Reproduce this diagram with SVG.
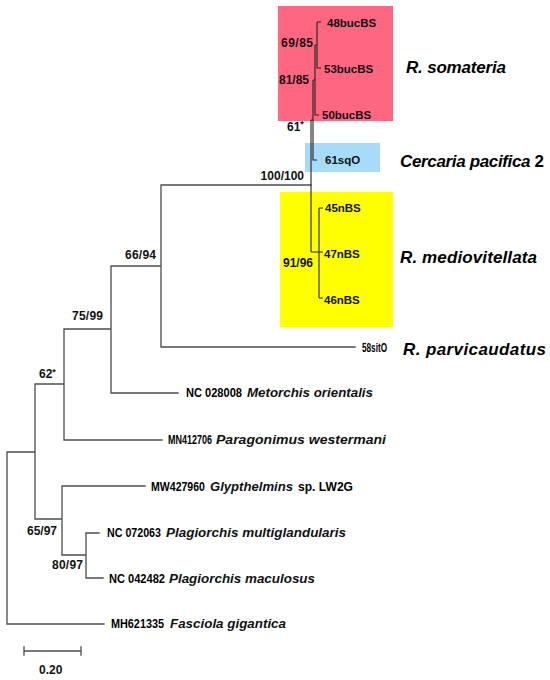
<svg xmlns="http://www.w3.org/2000/svg" width="550" height="680" viewBox="0 0 550 680">
<style>
.br{stroke:#4d4d4d;stroke-width:1.3;fill:none;stroke-linecap:square}
.cb{stroke:#222;stroke-width:1.1;fill:none}
.lab{font-family:"Liberation Sans",Arial,sans-serif;font-weight:bold;font-size:12px;fill:#111}
.tip{font-family:"Liberation Sans",Arial,sans-serif;font-weight:bold;font-size:11.5px;fill:#111}
.acc{font-family:"Liberation Sans",Arial,sans-serif;font-weight:bold;font-size:12.5px;fill:#000}
.sp{font-family:"Liberation Sans",Arial,sans-serif;font-weight:bold;font-style:italic;font-size:13.5px;fill:#111}
.big{font-family:"Liberation Sans",Arial,sans-serif;font-weight:bold;font-style:italic;font-size:17px;fill:#000}
</style>
<rect width="550" height="680" fill="#fff"/>
<g id="boxes">
<rect id="box-somateria" x="278" y="6" width="115" height="115" fill="#ff6680"/>
<rect id="box-cercaria" x="305" y="143" width="75" height="29" fill="#a6dcf8"/>
<rect id="box-mediovitellata" x="280" y="192" width="113" height="135" fill="#ffff00"/>
</g>
<g id="connectors">
<path class="br" d="M161 185H311 M161 185V347H355 M111 266H161 M111 266V393H178 M64 329H111 M64 329V440H162 M35 384H64 M35 384V519 M7 452H35 M7 452V624H104 M35 519H62 M62 486V555 M62 486H145 M62 555H86 M86 533V578 M86 533H99 M86 578H103"/>
<path class="cb" d="M311 120V252 M311 120H313 M313 80V160H317 M313 80H315 M315 45V115H319 M315 45H317 M317 22V68 M317 22H321 M317 68H321 M311 252H319 M319 208V298 M319 208H323 M319 252H323 M319 298H323"/>
<path class="br" d="M24 651H81 M24 647V655 M81 647V655"/>
</g>
<g id="clade-somateria">
<text class="tip" x="327" y="27">48bucBS</text>
<text class="tip" x="324" y="73">53bucBS</text>
<text class="tip" x="322" y="119">50bucBS</text>
<text class="lab" x="281" y="47" textLength="32">69/85</text>
<text class="lab" x="279" y="84" textLength="30">81/85</text>
<text class="big" x="406" y="73" textLength="100">R. somateria</text>
</g>
<g id="node-61">
<text class="lab" x="287" y="131" font-size="10.5">61<tspan font-size="9" dy="-4">*</tspan></text>
</g>
<g id="clade-cercaria">
<text class="tip" x="325" y="164">61sqO</text>
<text class="big" x="400" y="167" textLength="144">Cercaria pacifica <tspan font-style="normal">2</tspan></text>
</g>
<g id="node-100">
<text class="lab" x="304" y="180" text-anchor="end">100/100</text>
</g>
<g id="clade-mediovitellata">
<text class="tip" x="325" y="212">45nBS</text>
<text class="tip" x="324" y="258">47nBS</text>
<text class="tip" x="324" y="304">46nBS</text>
<text class="lab" x="283" y="267" textLength="30">91/96</text>
<text class="big" x="400" y="263" textLength="137">R. mediovitellata</text>
</g>
<g id="tip-parvicaudatus">
<text class="acc" x="362" y="352" font-size="10" textLength="25" lengthAdjust="spacingAndGlyphs">58sitO</text>
<text class="big" x="403" y="355" textLength="143">R. parvicaudatus</text>
</g>
<g id="node-labels">
<text class="lab" x="125" y="259" textLength="31">66/94</text>
<text class="lab" x="72" y="320" textLength="31">75/99</text>
<text class="lab" x="39" y="378">62<tspan font-size="9" dy="-3">*</tspan></text>
<text class="lab" x="27" y="535" textLength="30">65/97</text>
<text class="lab" x="52" y="569" textLength="31">80/97</text>
</g>
<g id="tip-metorchis">
<text class="acc" x="186" y="397" textLength="56" lengthAdjust="spacingAndGlyphs">NC 028008</text>
<text class="sp" x="247" y="397" textLength="126" lengthAdjust="spacingAndGlyphs">Metorchis orientalis</text>
</g>
<g id="tip-paragonimus">
<text class="acc" transform="translate(168 444) scale(0.72 1)" x="0" y="0">MN412706</text>
<text class="sp" x="216" y="444" textLength="170" lengthAdjust="spacingAndGlyphs">Paragonimus westermani</text>
</g>
<g id="tip-glypthelmins">
<text class="acc" x="151" y="491" textLength="54" lengthAdjust="spacingAndGlyphs">MW427960</text>
<text class="sp" x="210" y="491" textLength="83" lengthAdjust="spacingAndGlyphs">Glypthelmins</text>
<text class="acc" x="298" y="491" font-size="12" textLength="55" lengthAdjust="spacingAndGlyphs">sp. LW2G</text>
</g>
<g id="tip-multiglandularis">
<text class="acc" x="107" y="537" textLength="54" lengthAdjust="spacingAndGlyphs">NC 072063</text>
<text class="sp" x="166" y="537" textLength="180" lengthAdjust="spacingAndGlyphs">Plagiorchis multiglandularis</text>
</g>
<g id="tip-maculosus">
<text class="acc" x="109" y="583" textLength="56" lengthAdjust="spacingAndGlyphs">NC 042482</text>
<text class="sp" x="169" y="583" textLength="146" lengthAdjust="spacingAndGlyphs">Plagiorchis maculosus</text>
</g>
<g id="tip-fasciola">
<text class="acc" x="111" y="628" textLength="53" lengthAdjust="spacingAndGlyphs">MH621335</text>
<text class="sp" x="170" y="628" textLength="116" lengthAdjust="spacingAndGlyphs">Fasciola gigantica</text>
</g>
<g id="scale">
<text class="lab" x="39" y="674" font-size="13">0.20</text>
</g>
</svg>
